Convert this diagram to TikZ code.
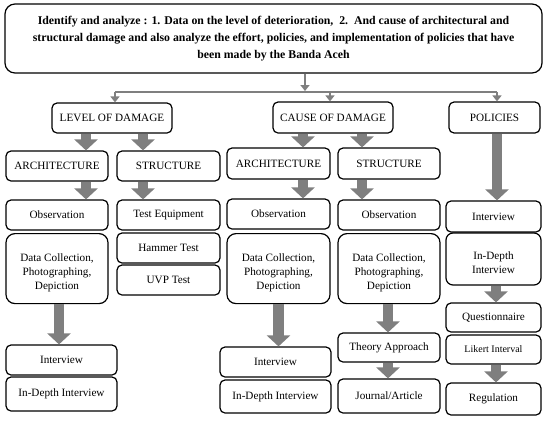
\documentclass[tikz,border=0pt]{standalone}
\usepackage{fontspec}
\setmainfont{Liberation Serif}
\usetikzlibrary{arrows.meta}
\definecolor{ag}{HTML}{7F7F7F}
\tikzset{
  box/.style={draw=black, line width=1.2pt, rounded corners=5pt, align=center, inner sep=1pt, font=\fontsize{11.2}{14}\selectfont},
  tbox/.style={box, rounded corners=9pt},
  txt/.style={align=center, inner sep=0pt, font=\fontsize{11.2}{14}\selectfont},
  blk/.style={ag, line width=10.5pt, -{Triangle[length=11pt,width=23pt]}},
  thin/.style={ag, line width=2.8pt, -{Triangle[length=6pt,width=9pt]}},
  thinline/.style={ag, line width=2.8pt}
}
\begin{document}
\begin{tikzpicture}[x=1pt,y=-1pt]
\useasboundingbox (0,0) rectangle (550,421);
\node[box, rounded corners=10pt, minimum width=537pt, minimum height=69pt, font=\fontsize{11.8}{17}\selectfont\bfseries] (top) at (273.5,38.5)
 {Identify and analyze : 1. Data on the level of deterioration,\ \ 2.\ \ And cause of architectural and\\
  structural damage and also analyze the effort, policies, and implementation of policies that have\\
  been made by the Banda Aceh};
\node[box, minimum width=120pt, minimum height=30pt] (lod) at (112,118) {LEVEL OF DAMAGE};
\node[box, minimum width=120pt, minimum height=31pt] (cod) at (333,117.5) {CAUSE OF DAMAGE};
\node[box, minimum width=91pt, minimum height=31pt] (pol) at (494.5,117.5) {POLICIES};
\node[box, minimum width=102pt, minimum height=30pt] (arch1) at (57,166) {ARCHITECTURE};
\node[box, minimum width=103pt, minimum height=30pt] (str1) at (168.5,166) {STRUCTURE};
\node[box, minimum width=103pt, minimum height=31pt] (arch2) at (278.5,163.5) {ARCHITECTURE};
\node[box, minimum width=102pt, minimum height=31pt] (str2) at (389,163.5) {STRUCTURE};
\node[box, minimum width=102pt, minimum height=30pt] (obs1) at (57,215) {Observation};
\node[box, minimum width=103pt, minimum height=30pt] (teq) at (168.5,215) {Test Equipment};
\node[box, minimum width=103pt, minimum height=30pt] (obs2) at (278.5,214) {Observation};
\node[box, minimum width=102pt, minimum height=30pt] (obs3) at (389,215) {Observation};
\node[box, minimum width=95pt, minimum height=31pt] (int3) at (493.5,216.5) {Interview};
\node[tbox, minimum width=102pt, minimum height=70pt, anchor=north,
  label={[txt, yshift=-4.5pt]center:Data Collection,\\ Photographing,\\ Depiction}] (dc1) at (57,233) {};
\node[box, minimum width=103pt, minimum height=30pt] (ham) at (168.5,248) {Hammer Test};
\node[box, minimum width=103pt, minimum height=30pt] (uvp) at (168.5,280) {UVP Test};
\node[tbox, minimum width=103pt, minimum height=70pt, anchor=north,
  label={[txt, yshift=-4.5pt]center:Data Collection,\\ Photographing,\\ Depiction}] (dc2) at (278.5,233) {};
\node[tbox, minimum width=102pt, minimum height=70pt, anchor=north,
  label={[txt, yshift=-4.5pt]center:Data Collection,\\ Photographing,\\ Depiction}] (dc3) at (389,233) {};
\node[box, rounded corners=7pt, minimum width=95pt, minimum height=52pt,
  label={[txt, yshift=-4pt]center:In-Depth\\ Interview}] (idi3) at (493.5,259) {};
\node[box, minimum width=95pt, minimum height=29pt] (q) at (493.5,317.5) {Questionnaire};
\node[box, minimum width=95pt, minimum height=29pt, font=\fontsize{10}{12}\selectfont] (lik) at (493.5,349.5) {Likert Interval};
\node[box, minimum width=95pt, minimum height=32pt] (reg) at (493.5,399) {Regulation};
\node[box, minimum width=111pt, minimum height=30pt] (int1) at (61.5,360) {Interview};
\node[box, minimum width=111pt, minimum height=34pt] (idi1) at (61.5,394) {In-Depth Interview};
\node[box, minimum width=111pt, minimum height=30pt] (int2) at (275.5,362) {Interview};
\node[box, minimum width=111pt, minimum height=33pt] (idi2) at (275.5,396.5) {In-Depth Interview};
\node[box, minimum width=102pt, minimum height=29pt] (th) at (389,347.5) {Theory Approach};
\node[box, minimum width=102pt, minimum height=34pt] (jou) at (389,396) {Journal/Article};
% thin connectors
\coordinate (hub) at (305,92);
\coordinate (hl) at (115,92);
\coordinate (hr) at (497,92);
\draw[thin] ([xshift=31.5pt]top.south) -- ([yshift=1pt]hub);
\draw[thinline] (hl) -- (hr);
\draw[thin] (hl) -- (hl |- lod.north);
\draw[thin] (hub -| cod.north) ++(-3pt,0) -- ([xshift=-3pt]cod.north);
\draw[thin] (hr) -- (hr |- pol.north);
% block arrows
\draw[blk] ([xshift=-26pt]lod.south) -- ([xshift=-26pt]lod.south |- arch1.north);
\draw[blk] ([xshift=31pt]lod.south) -- ([xshift=31pt]lod.south |- str1.north);
\draw[blk] ([xshift=-30pt]cod.south) -- ([xshift=-30pt]cod.south |- arch2.north);
\draw[blk] ([xshift=29pt]cod.south) -- ([xshift=29pt]cod.south |- str2.north);
\draw[blk] ([xshift=2.5pt]pol.south) -- ([xshift=2.5pt]pol.south |- int3.north);
\draw[blk] ([xshift=29pt]arch1.south) -- ([xshift=29pt]arch1.south |- obs1.north);
\draw[blk] ([xshift=-25.5pt]str1.south) -- ([xshift=-25.5pt]str1.south |- teq.north);
\draw[blk] ([xshift=24.5pt]arch2.south) -- ([xshift=24.5pt]arch2.south |- obs2.north);
\draw[blk] ([xshift=-27pt]str2.south) -- ([xshift=-27pt]str2.south |- obs3.north);
\draw[blk] ([xshift=2pt]dc1.south) -- ([xshift=2pt]dc1.south |- int1.north);
\draw[blk] (dc2.south) -- (dc2.south |- int2.north);
\draw[blk] ([xshift=-1pt]dc3.south) -- ([xshift=-1pt]dc3.south |- th.north);
\draw[blk] ([xshift=-1pt]th.south) -- ([xshift=-1pt]th.south |- jou.north);
\draw[blk] ([xshift=2.5pt]idi3.south) -- ([xshift=2.5pt]idi3.south |- q.north);
\draw[blk] ([xshift=2.5pt]lik.south) -- ([xshift=2.5pt]lik.south |- reg.north);
\end{tikzpicture}
\end{document}
